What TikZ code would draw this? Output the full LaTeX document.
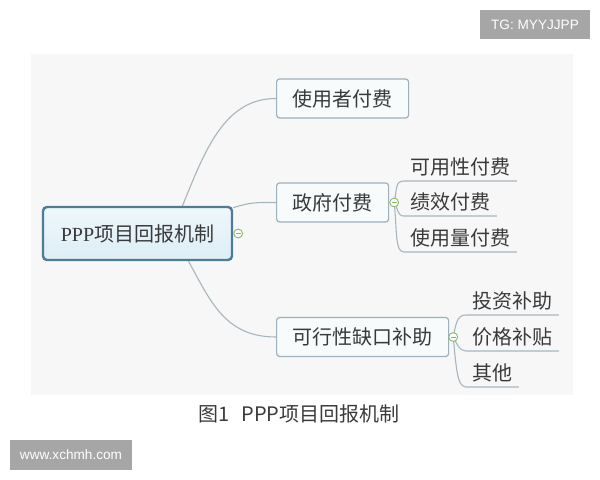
\documentclass[tikz,border=0pt]{standalone}
\usepackage{fontspec}
\setmainfont{Liberation Serif}
\setsansfont{Liberation Sans}
\newfontfamily\cjk{Noto Sans CJK SC}
\usepackage{xcolor}
\usepackage{tikz}
\usetikzlibrary{calc,backgrounds}

\definecolor{panelgray}{HTML}{F7F7F7}
\definecolor{roottop}{HTML}{EEF7FB}
\definecolor{rootbottom}{HTML}{DDEEF6}
\definecolor{rootline}{HTML}{4E7C95}
\definecolor{boxfill}{HTML}{F8FBFC}
\definecolor{boxline}{HTML}{9DB1BC}
\definecolor{linkgray}{HTML}{A7B6BE}
\definecolor{knobgreen}{HTML}{8CB86A}
\definecolor{markgray}{HTML}{A6A6A6}
\definecolor{textgray}{HTML}{3A3A3A}

\pgfdeclarelayer{edges}
\pgfsetlayers{background,edges,main}

\tikzset{
  roottopic/.style={draw=rootline, line width=1.2pt, rounded corners=2pt,
    top color=roottop, bottom color=rootbottom,
    text=textgray, font=\fontsize{10}{10}\selectfont},
  topic/.style={draw=boxline, fill=boxfill, line width=0.6pt, rounded corners=1.5pt,
    minimum height=19.5pt, inner xsep=8pt, text=textgray,
    font=\cjk\fontsize{10}{10}\selectfont},
  leaf/.style={anchor=south west, inner xsep=3pt, inner ysep=0pt, minimum height=14pt,
    text=textgray, font=\cjk\fontsize{10}{10}\selectfont},
  link/.style={draw=linkgray, line width=0.55pt},
  knob/.style={circle, draw=knobgreen, fill=white, line width=0.45pt, inner sep=0pt,
    minimum size=4.4pt,
    path picture={\draw[knobgreen, line width=0.45pt]
      ([xshift=-1.2pt]path picture bounding box.center) --
      ([xshift=1.2pt]path picture bounding box.center);}},
  watermark/.style={fill=markgray, text=white, inner sep=0pt,
    font=\sffamily\fontsize{6.8}{7}\selectfont},
}

\begin{document}
\begin{tikzpicture}[x=0.5pt, y=-0.5pt]
    \useasboundingbox (0,0) rectangle (600,480);
    \begin{pgfonlayer}{background}
    \fill[panelgray] (31,54) rectangle (573,395);
    \end{pgfonlayer}

    % Central topic
    \node[roottopic, minimum width=94.5pt, minimum height=26.5pt] (root) at (137.5,233.5)
        {{\rmfamily PPP}{\cjk 项目回报机制}};
    \node[knob] (rootknob) at ($(root.east)+(5,0)$) {};

    % Main topics
    \node[topic, anchor=west] (user) at (276,98.5) {使用者付费};
    \node[topic, anchor=west] (gov) at (276,202.5) {政府付费};
    \node[topic, anchor=west] (gap) at (276,337) {可行性缺口补助};
    \node[knob] (govknob) at ($(gov.east)+(5,0)$) {};
    \node[knob] (gapknob) at ($(gap.east)+(4,0)$) {};

    % Subtopics
    \node[leaf] (avail) at (404,181) {可用性付费};
    \node[leaf] (perf) at (404,216) {绩效付费};
    \node[leaf] (usage) at (404,252) {使用量付费};
    \node[leaf] (invest) at (466,315) {投资补助};
    \node[leaf] (price) at (466,351) {价格补贴};
    \node[leaf] (other) at (466,387) {其他};

    % Branches
    \begin{pgfonlayer}{edges}
    \draw[link] ($(root.north)+(45,0)$) .. controls +(23,-57) and +(-51,0) .. (user.west);
    \draw[link] ($(root.north east)+(0,2)$) .. controls +(18,-6) and +(-18,0) .. (gov.west);
    \draw[link] ($(root.south)+(51,0)$) .. controls +(22,40) and +(-51,0) .. (gap.west);

    \draw[link] (govknob.center) .. controls +(3,-14) and +(-9,0) .. (avail.south west) -- (avail.south east);
    \draw[link] (govknob.center) .. controls +(4,6) and +(-7,0) .. (perf.south west) -- (perf.south east);
    \draw[link] (govknob.center) .. controls +(3,30) and +(-9,0) .. (usage.south west) -- (usage.south east);
    \draw[link] (gapknob.center) .. controls +(3,-14) and +(-9,0) .. (invest.south west) -- (invest.south east);
    \draw[link] (gapknob.center) .. controls +(4,7) and +(-7,0) .. (price.south west) -- (price.south east);
    \draw[link] (gapknob.center) .. controls +(3,30) and +(-9,0) .. (other.south west) -- (other.south east);
    \end{pgfonlayer}

    % Caption
    \node[text=textgray, font=\cjk\fontsize{10}{12}\selectfont] (caption) at (299,414)
        {图1\hspace{6pt}PPP项目回报机制};

    % Watermarks
    \node[watermark, minimum width=55pt, minimum height=14.5pt] (tg) at (535,24.5) {TG: MYYJJPP};
    \node[watermark, minimum width=61pt, minimum height=15pt] (site) at (71,455) {www.xchmh.com};
\end{tikzpicture}
\end{document}
